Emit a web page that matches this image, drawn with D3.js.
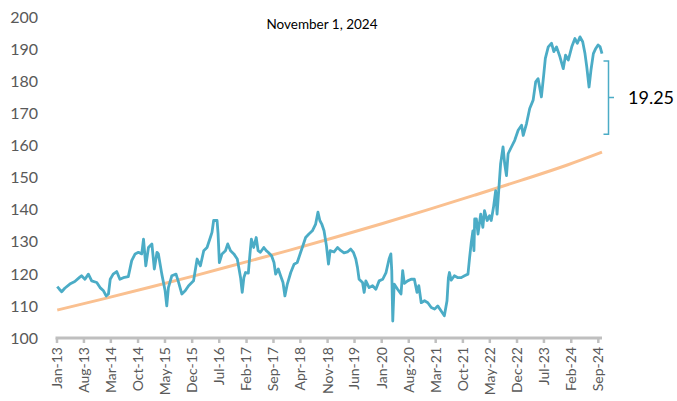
<!DOCTYPE html>
<html>
<head>
<meta charset="utf-8">
<script src="https://cdn.jsdelivr.net/npm/d3@7"></script>
<style>
    body { margin: 0; background: #fff; }
    svg text { font-family: Lato, 'Open Sans', sans-serif; }
</style>
</head>
<body>
<div id="chart"></div>
<script>
var title = 'November 1, 2024';
var gapLabel = '19.25';
var gapRange = [186.3, 163.5];

var yTicks = [100, 110, 120, 130, 140, 150, 160, 170, 180, 190, 200];
var xTickLabels = ['Jan-13', 'Aug-13', 'Mar-14', 'Oct-14', 'May-15', 'Dec-15', 'Jul-16', 'Feb-17', 'Sep-17', 'Apr-18',
    'Nov-18', 'Jun-19', 'Jan-20', 'Aug-20', 'Mar-21', 'Oct-21', 'May-22', 'Dec-22', 'Jul-23', 'Feb-24', 'Sep-24'];

// index level
var series = [
    ['2013-01-03', 116.0], ['2013-01-20', 115.2], ['2013-02-07', 114.4], ['2013-03-03', 115.5], ['2013-04-12', 116.8],
    ['2013-05-21', 117.6], ['2013-06-25', 118.8], ['2013-07-13', 119.4], ['2013-08-09', 118.3], ['2013-09-05', 119.9],
    ['2013-10-01', 117.8], ['2013-11-10', 117.3], ['2013-12-06', 115.7], ['2014-01-02', 114.7], ['2014-01-23', 113.1],
    ['2014-02-10', 113.7], ['2014-02-24', 118.3], ['2014-03-19', 119.9], ['2014-04-16', 120.7], ['2014-05-11', 118.3],
    ['2014-06-07', 118.8], ['2014-07-16', 119.1], ['2014-08-12', 124.1], ['2014-09-08', 126.2], ['2014-10-04', 126.7],
    ['2014-10-30', 126.2], ['2014-11-13', 130.8], ['2014-12-01', 122.5], ['2014-12-22', 128.2], ['2015-01-18', 129.3],
    ['2015-02-06', 121.5], ['2015-02-27', 126.7], ['2015-03-10', 126.2], ['2015-04-06', 119.9], ['2015-05-02', 114.7],
    ['2015-05-15', 110.0], ['2015-05-28', 115.7], ['2015-06-24', 119.4], ['2015-07-27', 119.9], ['2015-08-15', 117.5],
    ['2015-09-11', 113.7], ['2015-10-07', 114.7], ['2015-11-03', 116.3], ['2015-12-12', 117.8], ['2015-12-25', 121.0],
    ['2016-01-09', 124.6], ['2016-02-04', 122.5], ['2016-03-01', 127.2], ['2016-03-27', 128.2], ['2016-04-22', 131.3],
    ['2016-05-05', 132.9], ['2016-05-18', 136.6], ['2016-06-14', 136.6], ['2016-06-22', 132.4], ['2016-07-02', 123.5],
    ['2016-07-23', 126.2], ['2016-08-19', 127.2], ['2016-09-06', 129.3], ['2016-09-28', 127.2], ['2016-10-24', 126.2],
    ['2016-11-20', 124.6], ['2016-12-02', 122.0], ['2016-12-16', 118.8], ['2016-12-29', 114.2], ['2017-01-11', 118.8],
    ['2017-01-24', 120.4], ['2017-02-15', 120.2], ['2017-02-28', 126.2], ['2017-03-11', 130.8], ['2017-03-29', 128.2],
    ['2017-04-18', 131.3], ['2017-05-03', 127.2], ['2017-05-21', 126.7], ['2017-06-17', 128.2], ['2017-07-06', 127.2],
    ['2017-07-21', 126.7], ['2017-08-17', 125.6], ['2017-09-05', 123.5], ['2017-09-18', 119.9], ['2017-10-09', 121.5],
    ['2017-10-27', 119.4], ['2017-11-15', 117.3], ['2017-11-30', 113.1], ['2017-12-19', 116.8], ['2018-01-15', 120.4],
    ['2018-02-10', 123.0], ['2018-03-07', 123.5], ['2018-04-03', 126.7], ['2018-04-16', 128.2], ['2018-05-12', 131.3],
    ['2018-06-07', 132.4], ['2018-07-04', 133.4], ['2018-07-30', 135.5], ['2018-08-17', 139.2], ['2018-09-01', 136.6],
    ['2018-09-16', 135.5], ['2018-10-04', 133.4], ['2018-10-23', 128.7], ['2018-11-08', 123.0], ['2018-11-21', 127.2],
    ['2018-12-22', 126.8], ['2019-01-18', 128.2], ['2019-02-14', 127.2], ['2019-03-10', 126.5], ['2019-04-06', 126.8],
    ['2019-05-02', 127.7], ['2019-05-23', 126.7], ['2019-06-11', 124.6], ['2019-06-24', 122.0], ['2019-07-07', 118.3],
    ['2019-08-03', 117.3], ['2019-08-16', 114.2], ['2019-08-29', 117.8], ['2019-09-24', 115.7], ['2019-10-21', 116.3],
    ['2019-11-16', 115.2], ['2019-12-12', 117.8], ['2020-01-09', 118.3], ['2020-02-04', 120.4], ['2020-02-28', 124.6],
    ['2020-03-13', 126.2], ['2020-03-20', 121.0], ['2020-03-28', 105.3], ['2020-04-08', 116.8], ['2020-05-05', 115.2],
    ['2020-06-01', 113.7], ['2020-06-14', 121.0], ['2020-06-27', 117.0], ['2020-07-23', 117.8], ['2020-08-19', 118.3],
    ['2020-09-14', 118.3], ['2020-10-05', 114.2], ['2020-10-19', 116.3], ['2020-11-07', 111.0], ['2020-12-03', 111.6],
    ['2020-12-29', 111.0], ['2021-01-25', 109.5], ['2021-02-20', 109.0], ['2021-03-17', 110.0], ['2021-04-13', 108.4],
    ['2021-05-08', 106.9], ['2021-05-29', 111.6], ['2021-06-09', 118.8], ['2021-06-17', 120.4], ['2021-07-01', 118.0],
    ['2021-07-26', 119.4], ['2021-08-23', 118.8], ['2021-09-18', 118.8], ['2021-10-14', 119.4], ['2021-11-10', 119.9],
    ['2021-11-23', 125.1], ['2021-12-06', 129.8], ['2021-12-19', 133.4], ['2021-12-27', 127.2], ['2022-01-02', 137.1],
    ['2022-01-15', 137.1], ['2022-01-28', 132.4], ['2022-02-18', 138.6], ['2022-03-07', 134.5], ['2022-03-20', 139.7],
    ['2022-04-10', 136.6], ['2022-04-29', 138.1], ['2022-05-12', 136.6], ['2022-05-30', 140.7], ['2022-06-16', 145.9],
    ['2022-06-27', 138.6], ['2022-07-12', 147.0], ['2022-07-25', 154.3], ['2022-08-13', 159.5], ['2022-08-26', 154.3],
    ['2022-09-09', 150.6], ['2022-09-22', 157.4], ['2022-10-18', 159.5], ['2022-11-13', 161.6], ['2022-12-10', 164.7],
    ['2023-01-06', 166.3], ['2023-01-19', 163.1], ['2023-02-14', 166.8], ['2023-03-11', 171.5], ['2023-04-07', 174.1],
    ['2023-04-27', 179.8], ['2023-05-16', 180.8], ['2023-05-28', 178.2], ['2023-06-11', 175.1], ['2023-06-29', 181.9],
    ['2023-07-12', 187.1], ['2023-08-04', 190.7], ['2023-08-30', 191.8], ['2023-09-17', 189.2], ['2023-10-08', 190.7],
    ['2023-11-04', 187.6], ['2023-11-30', 183.9], ['2023-12-18', 188.1], ['2024-01-09', 186.6], ['2024-02-05', 190.7],
    ['2024-03-01', 193.3], ['2024-03-20', 191.8], ['2024-04-10', 193.8], ['2024-05-01', 192.3], ['2024-05-19', 188.6],
    ['2024-06-02', 184.5], ['2024-06-20', 178.2], ['2024-07-05', 183.4], ['2024-07-24', 188.6], ['2024-08-12', 190.2],
    ['2024-08-30', 191.3], ['2024-09-15', 190.7], ['2024-09-30', 188.6]
];

// long-run trend
var trend = [
    ['2013-01-03', 108.7], ['2014-01-01', 112.2], ['2015-01-01', 115.8], ['2016-01-01', 119.5], ['2017-01-01', 123.4],
    ['2018-01-01', 127.3], ['2019-01-01', 131.4], ['2020-01-01', 135.6], ['2021-01-01', 140.0], ['2022-01-01', 144.5],
    ['2023-01-01', 149.1], ['2024-01-01', 153.9], ['2024-09-30', 157.9]
];

var W = 677, H = 401;
var parseDate = d3.timeParse('%Y-%m-%d');
var parseTick = d3.timeParse('%b-%y');

var pts = _map(series);
var trendPts = _map(trend);

function _map(arr) {
    return arr.map(function (d) {
        return {date: parseDate(d[0]), value: d[1]};
    });
}

var x = d3.scaleTime()
    .domain([parseDate('2013-01-01'), parseDate('2024-09-30')])
    .range([57, 602]);
var y = d3.scaleLinear()
    .domain([100, 200])
    .range([338, 17]);

var svg = d3.select('#chart').append('svg')
    .attr('width', W)
    .attr('height', H);

svg.append('text')
    .attr('x', 322)
    .attr('y', 29)
    .attr('text-anchor', 'middle')
    .attr('font-size', 13.5)
    .attr('fill', '#000')
    .text(title);

// y labels, no gridlines
svg.append('g').selectAll('text').data(yTicks).enter().append('text')
    .attr('x', 38)
    .attr('y', function (d) {
        return y(d);
    })
    .attr('dy', '0.36em')
    .attr('text-anchor', 'end')
    .attr('font-size', 16)
    .attr('fill', '#595959')
    .text(function (d) {
        return d;
    });

// x axis
var tickDates = xTickLabels.map(function (s) {
    return parseTick(s);
});
var gx = svg.append('g');
gx.append('line')
    .attr('x1', x.range()[0] - 1.5)
    .attr('x2', x.range()[1])
    .attr('y1', y(100))
    .attr('y2', y(100))
    .attr('stroke', '#bfbfbf')
    .attr('stroke-width', 3);
gx.selectAll('line.tick').data(tickDates).enter().append('line')
    .attr('class', 'tick')
    .attr('x1', function (d) {
        return x(d);
    })
    .attr('x2', function (d) {
        return x(d);
    })
    .attr('y1', y(100))
    .attr('y2', y(100) + 5)
    .attr('stroke', '#bfbfbf')
    .attr('stroke-width', 2.5);
gx.selectAll('text').data(xTickLabels).enter().append('text')
    .attr('transform', function (d, i) {
        return 'translate(' + x(tickDates[i]) + ',' + (y(100) + 9) + ') rotate(-90)';
    })
    .attr('text-anchor', 'end')
    .attr('dy', '0.35em')
    .attr('font-size', 14)
    .attr('fill', '#595959')
    .text(function (d) {
        return d;
    });

var line = d3.line()
    .x(function (d) {
        return x(d.date);
    })
    .y(function (d) {
        return y(d.value);
    });

svg.append('path')
    .datum(trendPts)
    .attr('d', line.curve(d3.curveMonotoneX))
    .attr('fill', 'none')
    .attr('stroke', '#fac090')
    .attr('stroke-width', 3);

svg.append('path')
    .datum(pts)
    .attr('d', line.curve(d3.curveLinear))
    .attr('fill', 'none')
    .attr('stroke', '#4bacc6')
    .attr('stroke-width', 2.8)
    .attr('stroke-linejoin', 'round');

// bracket for the gap
var bx = x.range()[1] + 6.5;
var bTop = y(gapRange[0]), bBot = y(gapRange[1]), bMid = (bTop + bBot) / 2;
svg.append('path')
    .attr('d', 'M' + (bx - 5) + ',' + bTop + 'H' + bx + 'V' + bBot + 'H' + (bx - 5) +
        'M' + bx + ',' + bMid + 'H' + (bx + 5.5))
    .attr('fill', 'none')
    .attr('stroke', '#4bacc6')
    .attr('stroke-width', 1.5);

svg.append('text')
    .attr('x', 628)
    .attr('y', bMid)
    .attr('dy', '0.36em')
    .attr('font-size', 18)
    .attr('fill', '#000')
    .text(gapLabel);
</script>
</body>
</html>
